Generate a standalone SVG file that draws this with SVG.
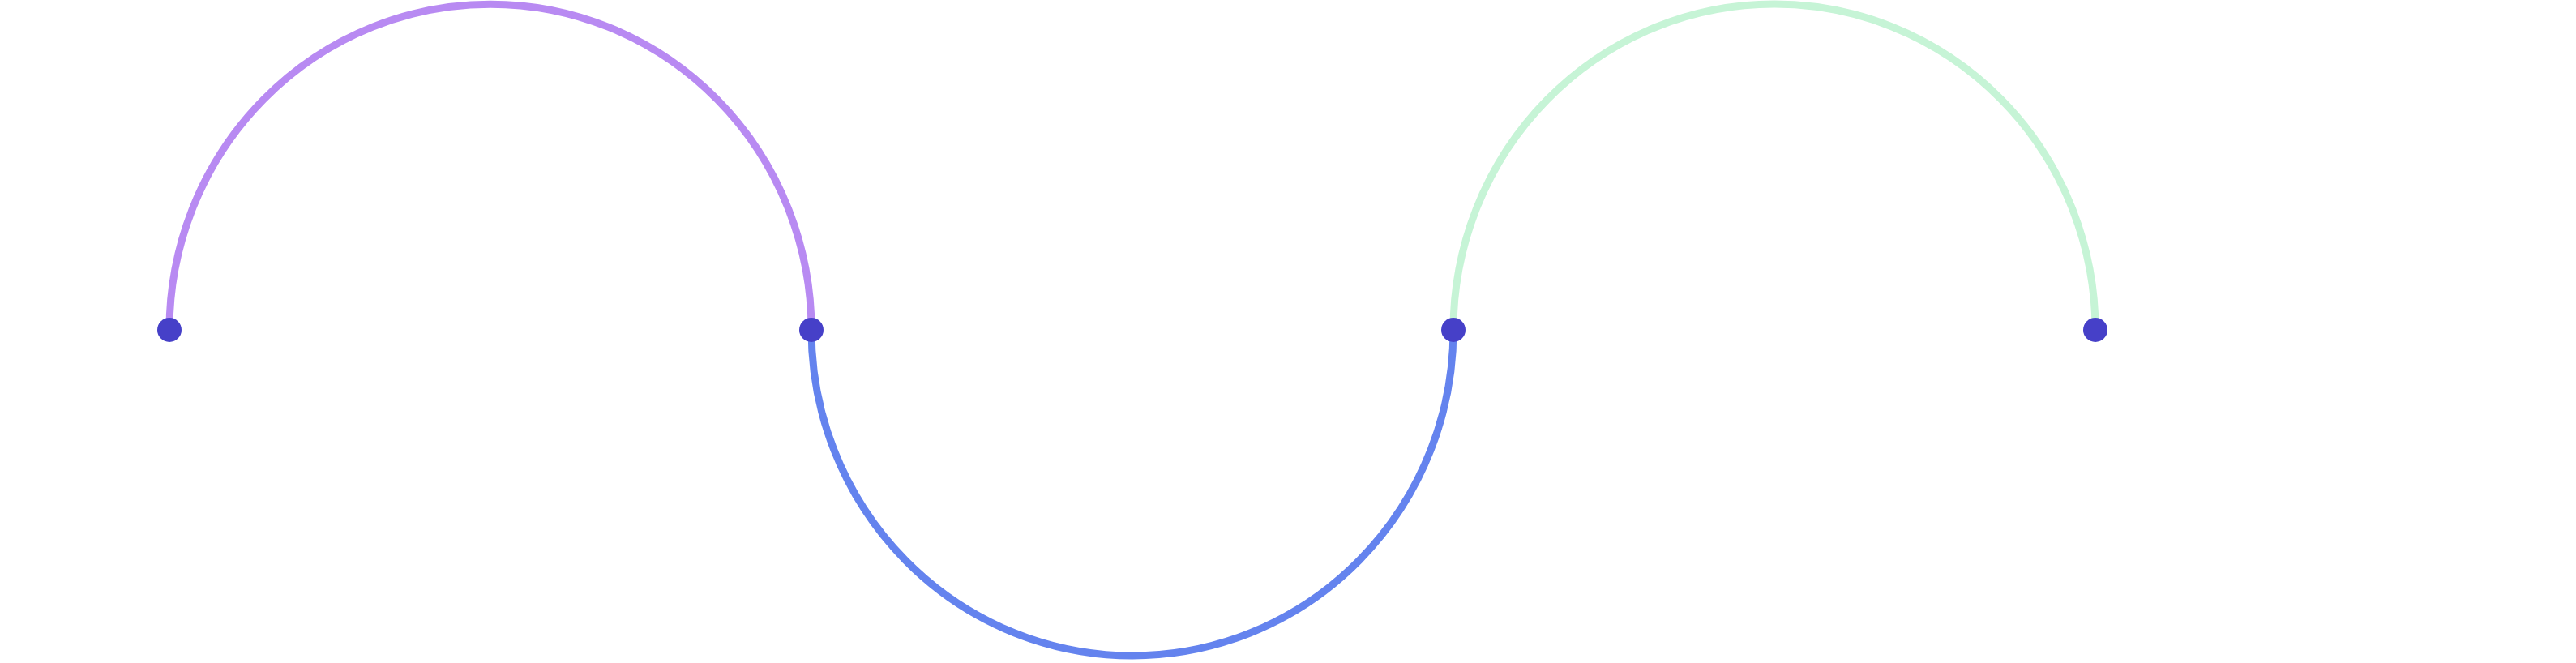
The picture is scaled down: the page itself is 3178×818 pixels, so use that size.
<svg xmlns="http://www.w3.org/2000/svg" width="3178" height="818" viewBox="0 0 3178 818">
  <style>
    .arc { fill: none; stroke-width: 9; }
    .dot { fill: #4640C8; }
  </style>
  <rect width="3178" height="818" fill="#ffffff"/>
  <g id="connectors">
    <path class="arc" stroke="#B88AF2" d="M209 407 A396 402 0 0 1 1001 407"/>
    <path class="arc" stroke="#6483EE" d="M1001 407 A396 402 0 0 0 1793 407"/>
    <path class="arc" stroke="#C6F4D6" d="M1793 407 A396 402 0 0 1 2585 407"/>
  </g>
  <g id="node1"><circle class="dot" cx="209" cy="407" r="15"/></g>
  <g id="node2"><circle class="dot" cx="1001" cy="407" r="15"/></g>
  <g id="node3"><circle class="dot" cx="1793" cy="407" r="15"/></g>
  <g id="node4"><circle class="dot" cx="2585" cy="407" r="15"/></g>
</svg>
